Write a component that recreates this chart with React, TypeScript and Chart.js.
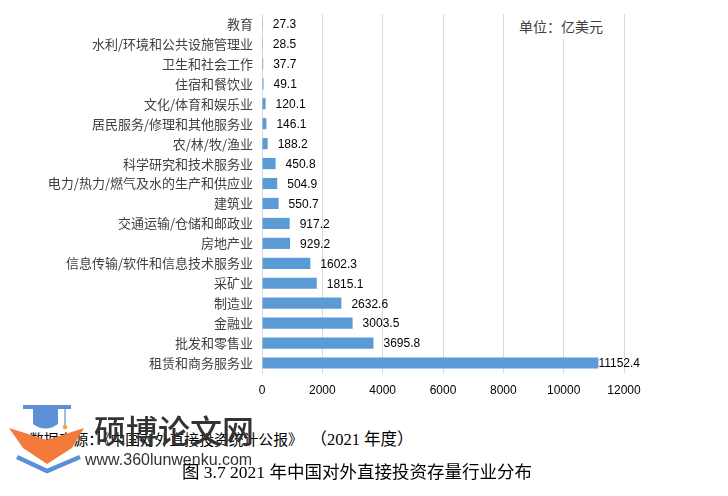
import React, { useEffect, useRef } from "react";
import { Chart, registerables } from "chart.js";

Chart.register(...registerables);

const categories: string[] = [
  "教育",
  "水利/环境和公共设施管理业",
  "卫生和社会工作",
  "住宿和餐饮业",
  "文化/体育和娱乐业",
  "居民服务/修理和其他服务业",
  "农/林/牧/渔业",
  "科学研究和技术服务业",
  "电力/热力/燃气及水的生产和供应业",
  "建筑业",
  "交通运输/仓储和邮政业",
  "房地产业",
  "信息传输/软件和信息技术服务业",
  "采矿业",
  "制造业",
  "金融业",
  "批发和零售业",
  "租赁和商务服务业",
];

const stockValues: number[] = [
  27.3, 28.5, 37.7, 49.1, 120.1, 146.1, 188.2, 450.8, 504.9, 550.7, 917.2,
  929.2, 1602.3, 1815.1, 2632.6, 3003.5, 3695.8, 11152.4,
];

const xMin = 0;
const xMax = 12000;
const xStep = 2000;

const unitText = "单位：亿美元";
const sourceMain = "数据来源：《中国对外直接投资统计公报》 ";
const sourceTail = "（2021 年度）";
const captionText = "图 3.7 2021 年中国对外直接投资存量行业分布";
const brandName = "硕博论文网";
const brandUrl = "www.360lunwenku.com";

const CJK = "'Noto Sans CJK SC', 'Noto Sans', sans-serif";
const NUM = "'Liberation Sans', Arial, sans-serif";
const SERIF = `'Liberation Serif', 'Noto Sans CJK SC', serif`;

const valueLabelPlugin = {
  id: "valueLabels",
  afterDatasetsDraw(chart: any) {
    const ctx = chart.ctx;
    const meta = chart.getDatasetMeta(0);
    const data = chart.data.datasets[0].data as number[];
    ctx.save();
    ctx.font = `12px ${NUM}`;
    ctx.fillStyle = "#000000";
    ctx.textBaseline = "middle";
    ctx.textAlign = "left";
    meta.data.forEach((bar: any, i: number) => {
      const txt = String(data[i]);
      const w = ctx.measureText(txt).width;
      const limit = chart.chartArea.right + 9;
      let x = bar.x + 10;
      if (x + w > limit) x = Math.max(bar.x, limit - w);
      ctx.fillText(txt, x, bar.y + 1);
    });
    ctx.restore();
  },
};

function ChartBox() {
  const ref = useRef<HTMLCanvasElement | null>(null);
  useEffect(() => {
    if (!ref.current) return;
    const chart = new Chart(ref.current, {
      type: "bar",
      data: {
        labels: categories,
        datasets: [
          {
            data: stockValues,
            backgroundColor: "#5B9BD5",
            borderWidth: 0,
            categoryPercentage: 1,
            barPercentage: 0.56,
          },
        ],
      },
      plugins: [valueLabelPlugin],
      options: {
        indexAxis: "y",
        animation: false,
        responsive: true,
        maintainAspectRatio: false,
        layout: { padding: { top: 14, right: 104, bottom: 0, left: 0 } },
        plugins: {
          legend: { display: false },
          tooltip: { enabled: false },
          title: { display: false },
        },
        scales: {
          x: {
            type: "linear",
            min: xMin,
            max: xMax,
            ticks: {
              stepSize: xStep,
              padding: 10,
              color: "#000000",
              font: { family: NUM, size: 12 },
              maxRotation: 0,
              callback: (v: any) => String(v),
            },
            grid: {
              color: "#d9d9d9",
              lineWidth: 1,
              drawTicks: false,
            },
            border: { display: false },
            afterFit: (s: any) => {
              s.height = 30;
              s.paddingLeft = 0;
              s.paddingRight = 0;
            },
          },
          y: {
            type: "category",
            ticks: {
              padding: 9,
              color: "#404040",
              font: { family: CJK, size: 13 },
              autoSkip: false,
            },
            grid: { display: true, color: "rgba(0,0,0,0)", drawTicks: false },
            border: { display: true, color: "#d9d9d9", width: 1 },
            afterFit: (s: any) => {
              s.width = 262;
              s.paddingTop = 0;
              s.paddingBottom = 0;
            },
          },
        },
      },
    });
    return () => chart.destroy();
  }, []);
  return (
    <div style={{ position: "absolute", left: 0, top: 0, width: 728, height: 403 }}>
      <canvas ref={ref} />
    </div>
  );
}

function Watermark() {
  return (
    <>
      <svg
        width={90}
        height={96}
        viewBox="0 0 90 96"
        style={{ position: "absolute", left: 0, top: 400 }}
      >
        <path d="M9 28 L47 40 L84 28 L72 48 L47 64 L23 48 Z" fill="#F47A3C" />
        <path d="M23 5 L71 5 L71 9 L23 9 Z" fill="#5B8FD6" />
        <path d="M33 9 L58 9 L58 24 Q45.5 33 33 24 Z" fill="#5B8FD6" />
        <line x1={65} y1={8} x2={65} y2={25} stroke="#5B8FD6" strokeWidth={1.2} />
        <circle cx={65} cy={27} r={2.2} fill="#F5A623" />
        <path d="M17 57 L47 71 L80 57" stroke="#5B8FD6" strokeWidth={4.5} fill="none" />
      </svg>
      <div
        style={{
          position: "absolute",
          left: 94,
          top: 410,
          fontFamily: CJK,
          fontSize: 32,
          fontWeight: 500,
          lineHeight: "38px",
          color: "#333333",
          whiteSpace: "nowrap",
        }}
      >
        {brandName}
      </div>
      <div
        style={{
          position: "absolute",
          left: 85,
          top: 450,
          fontFamily: NUM,
          fontSize: 16,
          lineHeight: "20px",
          color: "#333333",
          whiteSpace: "nowrap",
        }}
      >
        {brandUrl}
      </div>
    </>
  );
}

export default function App() {
  return (
    <div
      style={{
        position: "fixed",
        left: 0,
        top: 0,
        width: 728,
        height: 496,
        background: "#ffffff",
        overflow: "hidden",
      }}
    >
      <ChartBox />
      <div
        style={{
          position: "absolute",
          left: 511,
          top: 13,
          width: 112,
          height: 26,
          background: "#ffffff",
          fontFamily: CJK,
          fontSize: 14,
          lineHeight: "26px",
          color: "#404040",
          paddingLeft: 8,
          boxSizing: "border-box",
          whiteSpace: "nowrap",
        }}
      >
        {unitText}
      </div>
      <div
        style={{
          position: "absolute",
          left: 29,
          top: 430,
          fontFamily: SERIF,
          fontSize: 14.8,
          lineHeight: "20px",
          color: "#000000",
          whiteSpace: "nowrap",
        }}
      >
        {sourceMain}
        <span style={{ fontSize: 16.5, marginLeft: 4 }}>{sourceTail}</span>
      </div>
      <Watermark />
      <div
        style={{
          position: "absolute",
          left: 182,
          top: 461,
          fontFamily: SERIF,
          fontSize: 17.5,
          lineHeight: "22px",
          color: "#000000",
          whiteSpace: "nowrap",
        }}
      >
        {captionText}
      </div>
    </div>
  );
}
